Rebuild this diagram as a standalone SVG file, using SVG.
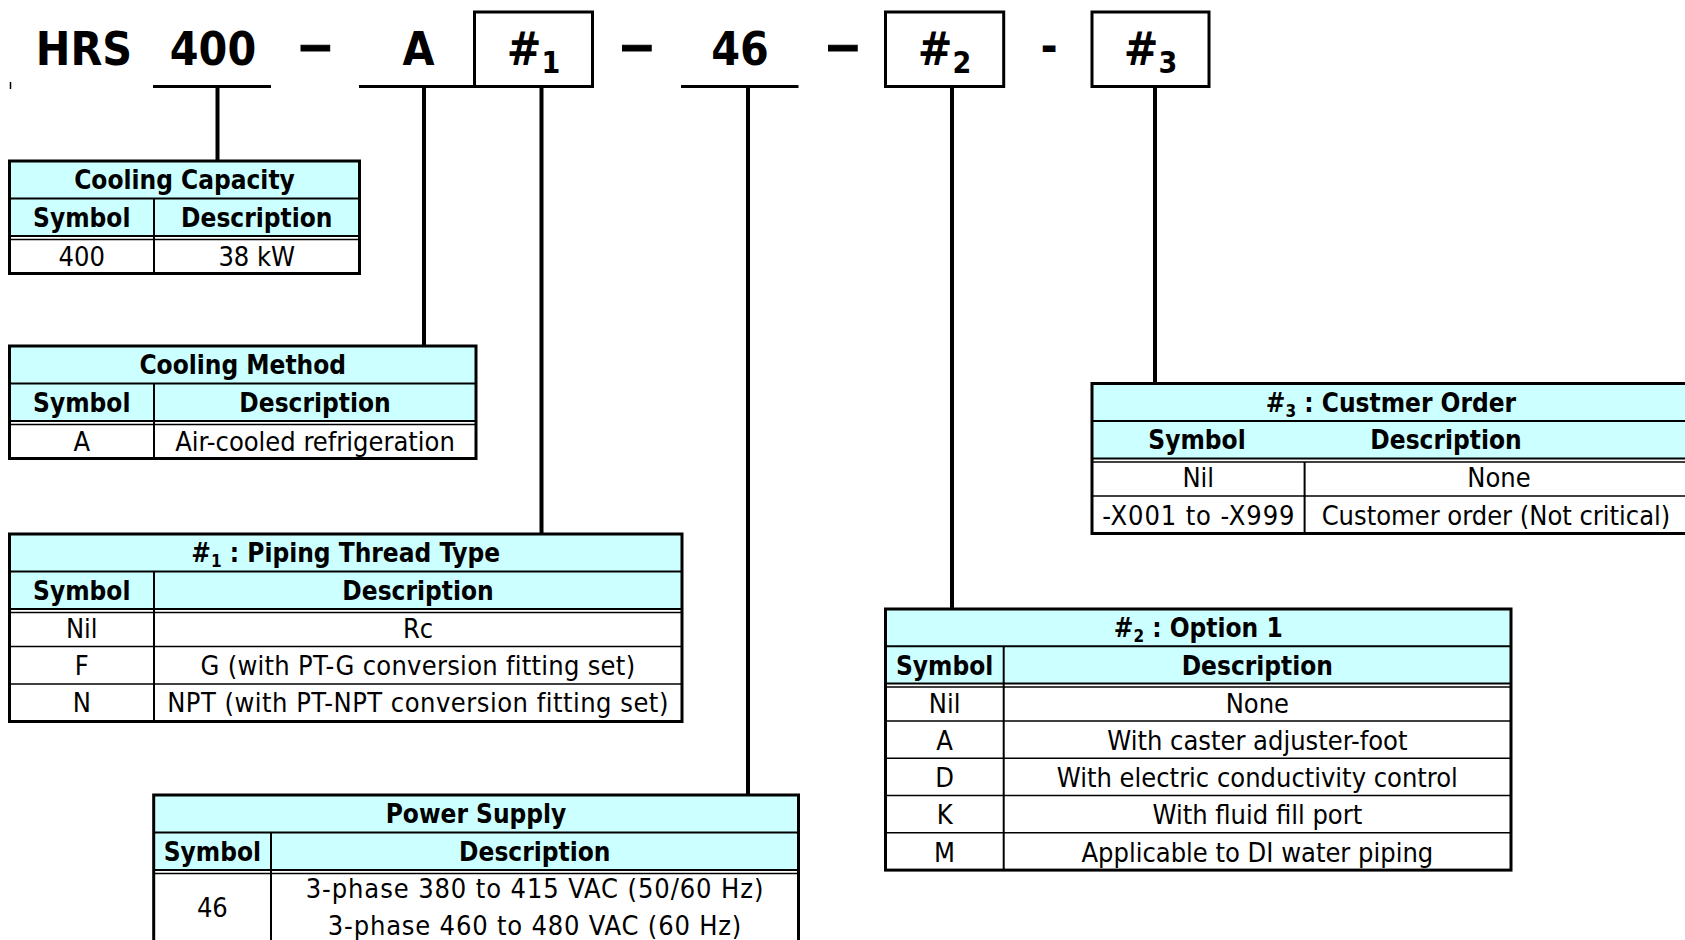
<svg xmlns="http://www.w3.org/2000/svg" width="1685" height="940" viewBox="0 0 1685 940">
<style>
text{font-family:"DejaVu Sans Condensed","DejaVu Sans",sans-serif;fill:#000;text-anchor:middle}
.big{font-size:46px;font-weight:bold}
.dash{font-family:"Liberation Sans",Arial,sans-serif;font-size:58px;font-weight:bold;stroke:#000;stroke-width:1}
.sub{font-size:30px;font-weight:bold}
.hd{font-size:26px;font-weight:bold}
.hs{font-size:17px;font-weight:bold}
.td{font-size:27px}
.fill{fill:#ccffff;stroke:none}
.out{fill:none;stroke:#000;stroke-width:3}
.ln{stroke:#000;stroke-width:2;fill:none}
.thin{stroke:#000;stroke-width:1.5;fill:none}
.box{fill:#fff;stroke:#000;stroke-width:3}
.ul{stroke:#000;stroke-width:3}
.conn{stroke:#000;stroke-width:4;fill:none}
</style>
<rect width="1685" height="940" fill="#fff"/>

<g id="connectors">
<line class="conn" x1="217.5" y1="86.5" x2="217.5" y2="161"/>
<line class="conn" x1="424" y1="86.5" x2="424" y2="346"/>
<line class="conn" x1="541.5" y1="86.5" x2="541.5" y2="534"/>
<line class="conn" x1="748" y1="86.5" x2="748" y2="795"/>
<line class="conn" x1="952" y1="86.5" x2="952" y2="609"/>
<line class="conn" x1="1155" y1="86.5" x2="1155" y2="383.5"/>
</g>

<g id="code">
<line class="thin" x1="10.5" y1="82" x2="10.5" y2="89"/>
<g id="code-hrs"><text class="big" x="84" y="65">HRS</text></g>
<g id="code-400"><text class="big" x="213" y="65">400</text><line class="ul" x1="153" y1="86.5" x2="271" y2="86.5"/></g>
<text class="dash" x="315.5" y="64">–</text>
<g id="code-a"><text class="big" x="418.5" y="65">A</text><line class="ul" x1="359" y1="86.5" x2="474.5" y2="86.5"/></g>
<g id="code-h1"><rect class="box" x="474.5" y="12" width="118" height="74.5"/><text class="big" x="533.5" y="65">#<tspan class="sub" dy="8">1</tspan></text></g>
<text class="dash" x="637" y="64">–</text>
<g id="code-46"><text class="big" x="740" y="65">46</text><line class="ul" x1="681" y1="86.5" x2="798.5" y2="86.5"/></g>
<text class="dash" x="843" y="64">–</text>
<g id="code-h2"><rect class="box" x="885.5" y="12" width="118.2" height="74.5"/><text class="big" x="944.6" y="65">#<tspan class="sub" dy="8">2</tspan></text></g>
<text class="big" x="1049" y="62">-</text>
<g id="code-h3"><rect class="box" x="1092" y="12" width="117" height="74.5"/><text class="big" x="1150.5" y="65">#<tspan class="sub" dy="8">3</tspan></text></g>
</g>

<g id="table-capacity">
<rect class="fill" x="9.5" y="161" width="350" height="75"/>
<line class="ln" x1="9.5" y1="198.5" x2="359.5" y2="198.5"/>
<line class="ln" x1="9.5" y1="236" x2="359.5" y2="236"/>
<line class="thin" x1="9.5" y1="239.5" x2="359.5" y2="239.5"/>
<line class="ln" x1="154" y1="198.5" x2="154" y2="273.5"/>
<rect class="out" x="9.5" y="161" width="350" height="112.5"/>
<text class="hd" x="184.5" y="189">Cooling Capacity</text>
<text class="hd" x="81.75" y="227">Symbol</text>
<text class="hd" x="256.75" y="227">Description</text>
<text class="td" x="81.75" y="266">400</text>
<text class="td" x="256.75" y="266">38 kW</text>
</g>

<g id="table-method">
<rect class="fill" x="9.5" y="346" width="466.5" height="75"/>
<line class="ln" x1="9.5" y1="383.5" x2="476" y2="383.5"/>
<line class="ln" x1="9.5" y1="421" x2="476" y2="421"/>
<line class="thin" x1="9.5" y1="424.5" x2="476" y2="424.5"/>
<line class="ln" x1="154" y1="383.5" x2="154" y2="458.5"/>
<rect class="out" x="9.5" y="346" width="466.5" height="112.5"/>
<text class="hd" x="242.75" y="374">Cooling Method</text>
<text class="hd" x="81.75" y="412">Symbol</text>
<text class="hd" x="315" y="412">Description</text>
<text class="td" x="81.75" y="451">A</text>
<text class="td" x="315" y="451">Air-cooled refrigeration</text>
</g>

<g id="table-h1">
<rect class="fill" x="9.5" y="534" width="672.5" height="75"/>
<line class="ln" x1="9.5" y1="571.5" x2="682" y2="571.5"/>
<line class="ln" x1="9.5" y1="609" x2="682" y2="609"/>
<line class="thin" x1="9.5" y1="612.5" x2="682" y2="612.5"/>
<line class="thin" x1="9.5" y1="646.5" x2="682" y2="646.5"/>
<line class="thin" x1="9.5" y1="684" x2="682" y2="684"/>
<line class="ln" x1="154" y1="571.5" x2="154" y2="721.5"/>
<rect class="out" x="9.5" y="534" width="672.5" height="187.5"/>
<text class="hd" x="345.75" y="562">#<tspan class="hs" dy="5">1</tspan><tspan dy="-5"> : Piping Thread Type</tspan></text>
<text class="hd" x="81.75" y="600">Symbol</text>
<text class="hd" x="418" y="600">Description</text>
<text class="td" x="81.75" y="638">Nil</text>
<text class="td" x="418" y="638">Rc</text>
<text class="td" x="81.75" y="675">F</text>
<text class="td" x="418" y="675" letter-spacing="0.27">G (with PT-G conversion fitting set)</text>
<text class="td" x="81.75" y="712">N</text>
<text class="td" x="418" y="712" letter-spacing="0.5">NPT (with PT-NPT conversion fitting set)</text>
</g>

<g id="table-power">
<rect class="fill" x="153.7" y="795" width="644.8" height="75"/>
<line class="ln" x1="153.7" y1="832.5" x2="798.5" y2="832.5"/>
<line class="ln" x1="153.7" y1="870" x2="798.5" y2="870"/>
<line class="thin" x1="153.7" y1="873.5" x2="798.5" y2="873.5"/>
<line class="ln" x1="271" y1="832.5" x2="271" y2="950"/>
<rect class="out" x="153.7" y="795" width="644.8" height="155"/>
<text class="hd" x="476" y="823">Power Supply</text>
<text class="hd" x="212.35" y="861">Symbol</text>
<text class="hd" x="534.75" y="861">Description</text>
<text class="td" x="212.35" y="917">46</text>
<text class="td" x="535" y="898" letter-spacing="0.9">3-phase 380 to 415 VAC (50/60 Hz)</text>
<text class="td" x="535" y="935" letter-spacing="0.82">3-phase 460 to 480 VAC (60 Hz)</text>
</g>

<g id="table-h2">
<rect class="fill" x="885.5" y="609" width="625.5" height="74.6"/>
<line class="ln" x1="885.5" y1="646.3" x2="1511" y2="646.3"/>
<line class="ln" x1="885.5" y1="683.6" x2="1511" y2="683.6"/>
<line class="thin" x1="885.5" y1="687.1" x2="1511" y2="687.1"/>
<line class="thin" x1="885.5" y1="720.9" x2="1511" y2="720.9"/>
<line class="thin" x1="885.5" y1="758.2" x2="1511" y2="758.2"/>
<line class="thin" x1="885.5" y1="795.5" x2="1511" y2="795.5"/>
<line class="thin" x1="885.5" y1="832.8" x2="1511" y2="832.8"/>
<line class="ln" x1="1003.7" y1="646.3" x2="1003.7" y2="870.1"/>
<rect class="out" x="885.5" y="609" width="625.5" height="261.1"/>
<text class="hd" x="1198.25" y="637">#<tspan class="hs" dy="5">2</tspan><tspan dy="-5"> : Option 1</tspan></text>
<text class="hd" x="944.6" y="674.5">Symbol</text>
<text class="hd" x="1257.35" y="674.5">Description</text>
<text class="td" x="944.6" y="712.5">Nil</text>
<text class="td" x="1257.35" y="712.5">None</text>
<text class="td" x="944.6" y="749.8">A</text>
<text class="td" x="1257.35" y="749.8">With caster adjuster-foot</text>
<text class="td" x="944.6" y="787.1">D</text>
<text class="td" x="1257.35" y="787.1">With electric conductivity control</text>
<text class="td" x="944.6" y="824.4">K</text>
<text class="td" x="1257.35" y="824.4">With fluid fill port</text>
<text class="td" x="944.6" y="861.7">M</text>
<text class="td" x="1257.35" y="861.7">Applicable to DI water piping</text>
</g>

<g id="table-h3">
<rect class="fill" x="1092" y="383.5" width="610" height="75"/>
<line class="ln" x1="1092" y1="421" x2="1702" y2="421"/>
<line class="ln" x1="1092" y1="458.5" x2="1702" y2="458.5"/>
<line class="thin" x1="1092" y1="462" x2="1702" y2="462"/>
<line class="thin" x1="1092" y1="496" x2="1702" y2="496"/>
<line class="ln" x1="1304.6" y1="462" x2="1304.6" y2="533.5"/>
<rect class="out" x="1092" y="383.5" width="610" height="150"/>
<text class="hd" x="1391" y="411.5">#<tspan class="hs" dy="5">3</tspan><tspan dy="-5"> : Custmer Order</tspan></text>
<text class="hd" x="1197" y="449">Symbol</text>
<text class="hd" x="1446" y="449">Description</text>
<text class="td" x="1198.3" y="487">Nil</text>
<text class="td" x="1499" y="487">None</text>
<text class="td" x="1198.8" y="524.5" letter-spacing="0.9">-X001 to -X999</text>
<text class="td" x="1496" y="524.5">Customer order (Not critical)</text>
</g>
</svg>
